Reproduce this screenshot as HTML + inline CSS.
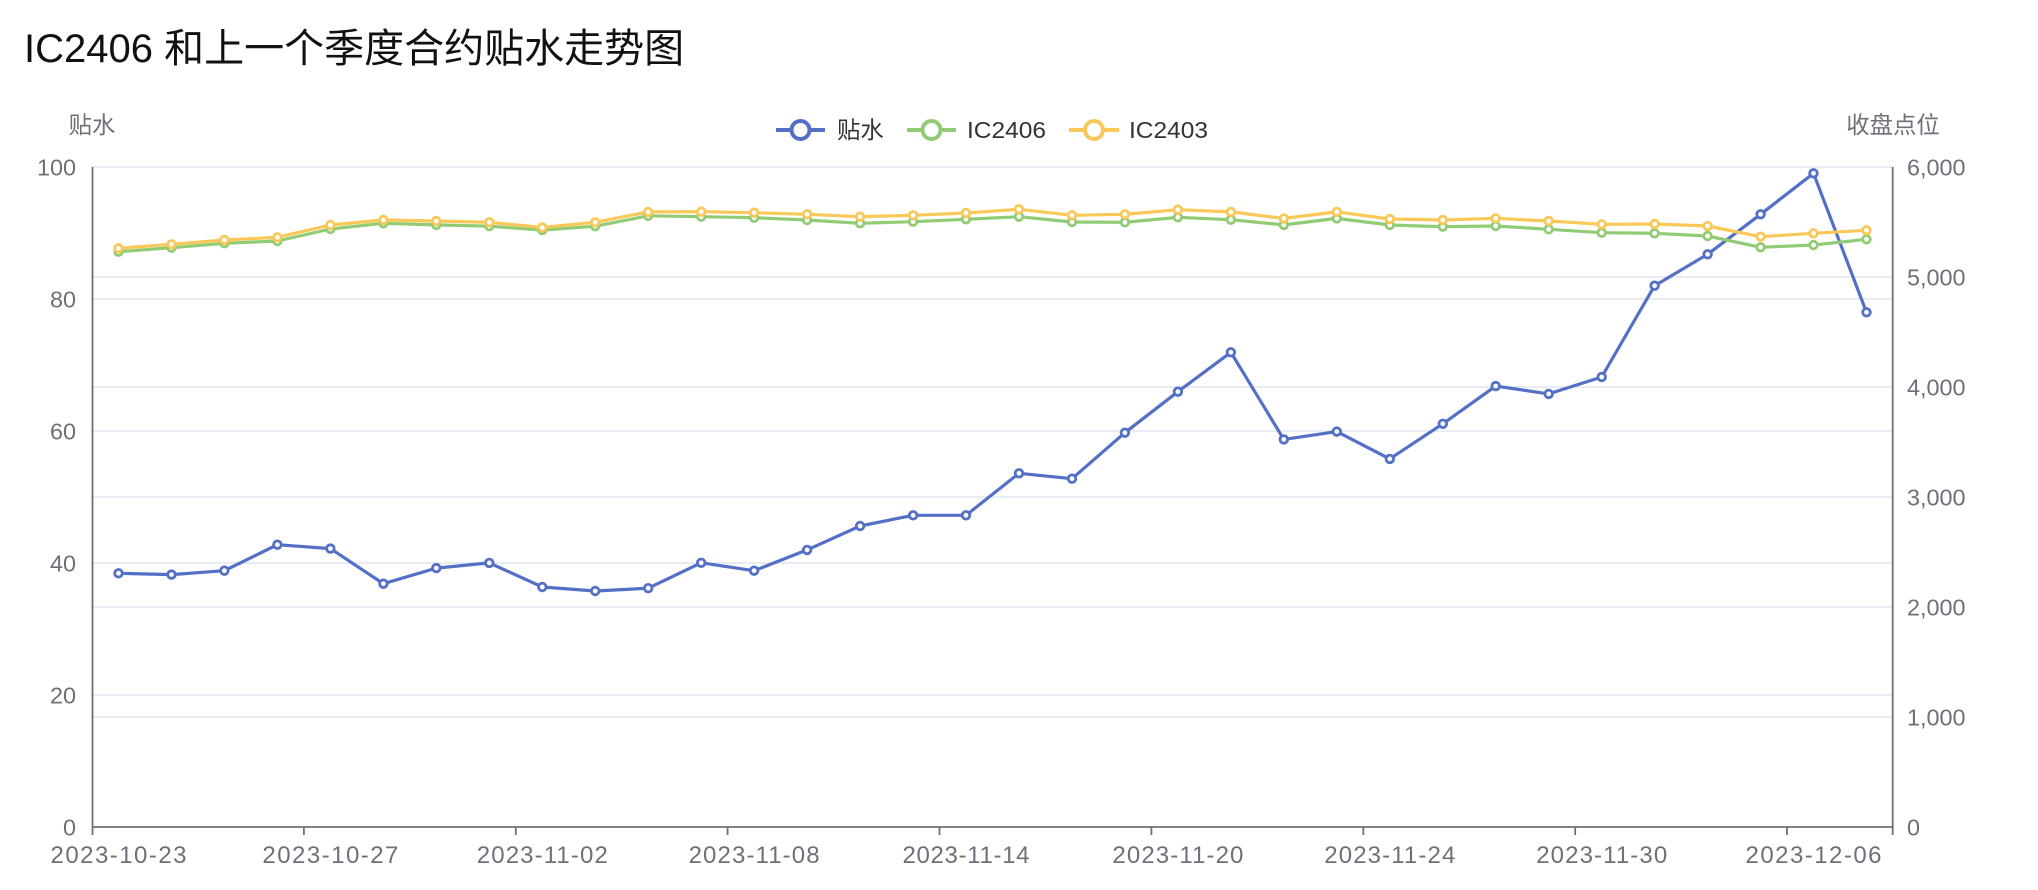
<!DOCTYPE html>
<html><head><meta charset="utf-8">
<style>
html,body{margin:0;padding:0;background:#fff;}
svg{display:block;font-family:"Liberation Sans","Noto Sans CJK SC",sans-serif;}
</style></head>
<body>
<svg width="2038" height="890" viewBox="0 0 2038 890" xmlns="http://www.w3.org/2000/svg">
<rect width="2038" height="890" fill="#fff"/>
<!-- title -->
<text x="24" y="62" font-size="40" fill="#111">IC2406 和上一个季度合约贴水走势图</text>

<!-- grid lines left axis -->
<g stroke="#E0E6F1" stroke-width="1.6">
<line x1="92" y1="167" x2="1893" y2="167"/>
<line x1="92" y1="299" x2="1893" y2="299"/>
<line x1="92" y1="431" x2="1893" y2="431"/>
<line x1="92" y1="563" x2="1893" y2="563"/>
<line x1="92" y1="695" x2="1893" y2="695"/>
<!-- right axis grid -->
<line x1="92" y1="277" x2="1893" y2="277"/>
<line x1="92" y1="387" x2="1893" y2="387"/>
<line x1="92" y1="497" x2="1893" y2="497"/>
<line x1="92" y1="607" x2="1893" y2="607"/>
<line x1="92" y1="717" x2="1893" y2="717"/>
</g>

<!-- axes -->
<g stroke="#6E7079" stroke-width="1.8">
<line x1="92.5" y1="167" x2="92.5" y2="827"/>
<line x1="1892.7" y1="167" x2="1892.7" y2="827"/>
<line x1="92" y1="827" x2="1893" y2="827"/>
<line x1="92.5" y1="827" x2="92.5" y2="835"/>
<line x1="303.9" y1="827" x2="303.9" y2="835"/>
<line x1="515.8" y1="827" x2="515.8" y2="835"/>
<line x1="727.6" y1="827" x2="727.6" y2="835"/>
<line x1="939.5" y1="827" x2="939.5" y2="835"/>
<line x1="1151.4" y1="827" x2="1151.4" y2="835"/>
<line x1="1363.3" y1="827" x2="1363.3" y2="835"/>
<line x1="1575.2" y1="827" x2="1575.2" y2="835"/>
<line x1="1787" y1="827" x2="1787" y2="835"/>
<line x1="1892.7" y1="827" x2="1892.7" y2="835"/>
</g>

<!-- left labels -->
<g font-size="23.4" fill="#6E7079" text-anchor="end">
<text x="76" y="175.4">100</text>
<text x="76" y="307.4">80</text>
<text x="76" y="439.4">60</text>
<text x="76" y="571.4">40</text>
<text x="76" y="703.4">20</text>
<text x="76" y="835.4">0</text>
</g>
<!-- right labels -->
<g font-size="23.4" fill="#6E7079">
<text x="1907" y="175.4">6,000</text>
<text x="1907" y="285.4">5,000</text>
<text x="1907" y="395.4">4,000</text>
<text x="1907" y="505.4">3,000</text>
<text x="1907" y="615.4">2,000</text>
<text x="1907" y="725.4">1,000</text>
<text x="1907" y="835.4">0</text>
</g>
<!-- axis names -->
<g font-size="23.4" fill="#6E7079" text-anchor="middle">
<text x="92" y="125" dominant-baseline="central">贴水</text>
<text x="1893" y="125" dominant-baseline="central">收盘点位</text>
</g>
<!-- x labels -->
<g font-size="24" fill="#6E7079" text-anchor="middle">
<text x="118.5" y="863" textLength="136" lengthAdjust="spacing">2023-10-23</text>
<text x="330.4" y="863" textLength="136" lengthAdjust="spacing">2023-10-27</text>
<text x="542.3" y="863" textLength="131" lengthAdjust="spacing">2023-11-02</text>
<text x="754.1" y="863" textLength="131" lengthAdjust="spacing">2023-11-08</text>
<text x="966" y="863" textLength="127" lengthAdjust="spacing">2023-11-14</text>
<text x="1177.9" y="863" textLength="131" lengthAdjust="spacing">2023-11-20</text>
<text x="1389.8" y="863" textLength="131" lengthAdjust="spacing">2023-11-24</text>
<text x="1601.7" y="863" textLength="131" lengthAdjust="spacing">2023-11-30</text>
<text x="1813.5" y="863" textLength="136" lengthAdjust="spacing">2023-12-06</text>
</g>

<!-- legend -->
<g stroke-width="4" fill="#fff">
<line x1="776" y1="130" x2="825" y2="130" stroke="#5470c6"/>
<circle cx="800.5" cy="130" r="9" stroke="#5470c6"/>
<line x1="907" y1="130" x2="956" y2="130" stroke="#91cc75"/>
<circle cx="931.5" cy="130" r="9" stroke="#91cc75"/>
<line x1="1069" y1="130" x2="1119" y2="130" stroke="#fac858"/>
<circle cx="1094" cy="130" r="9" stroke="#fac858"/>
</g>
<g font-size="23.4" fill="#333">
<text x="837" y="130" dominant-baseline="central">贴水</text>
<text x="967" y="130" dominant-baseline="central" textLength="79" lengthAdjust="spacingAndGlyphs">IC2406</text>
<text x="1129" y="130" dominant-baseline="central" textLength="79" lengthAdjust="spacingAndGlyphs">IC2403</text>
</g>

<!-- series 贴水 -->
<g stroke="#5470c6" stroke-width="3.2" fill="none" stroke-linejoin="round">
<polyline points="118.5,573.3 171.5,574.6 224.4,570.7 277.4,544.7 330.4,548.6 383.4,583.7 436.3,568.1 489.3,562.9 542.3,587 595.2,591 648.2,588.2 701.2,562.8 754.1,570.7 807.1,549.9 860.1,526 913.1,515.3 966,515.3 1019,473.3 1072,478.7 1124.9,432.7 1177.9,391.7 1230.9,352.3 1283.8,439.4 1336.8,431.6 1389.8,458.9 1442.8,423.8 1495.7,386.1 1548.7,393.9 1601.7,377 1654.6,285.7 1707.6,254.3 1760.6,214.3 1813.5,173.3 1866.5,312.3"/>
</g>
<g stroke="#5470c6" stroke-width="2.8" fill="#fff">
<circle cx="118.5" cy="573.3" r="3.8"/><circle cx="171.5" cy="574.6" r="3.8"/><circle cx="224.4" cy="570.7" r="3.8"/><circle cx="277.4" cy="544.7" r="3.8"/><circle cx="330.4" cy="548.6" r="3.8"/><circle cx="383.4" cy="583.7" r="3.8"/><circle cx="436.3" cy="568.1" r="3.8"/><circle cx="489.3" cy="562.9" r="3.8"/><circle cx="542.3" cy="587" r="3.8"/><circle cx="595.2" cy="591" r="3.8"/><circle cx="648.2" cy="588.2" r="3.8"/><circle cx="701.2" cy="562.8" r="3.8"/><circle cx="754.1" cy="570.7" r="3.8"/><circle cx="807.1" cy="549.9" r="3.8"/><circle cx="860.1" cy="526" r="3.8"/><circle cx="913.1" cy="515.3" r="3.8"/><circle cx="966" cy="515.3" r="3.8"/><circle cx="1019" cy="473.3" r="3.8"/><circle cx="1072" cy="478.7" r="3.8"/><circle cx="1124.9" cy="432.7" r="3.8"/><circle cx="1177.9" cy="391.7" r="3.8"/><circle cx="1230.9" cy="352.3" r="3.8"/><circle cx="1283.8" cy="439.4" r="3.8"/><circle cx="1336.8" cy="431.6" r="3.8"/><circle cx="1389.8" cy="458.9" r="3.8"/><circle cx="1442.8" cy="423.8" r="3.8"/><circle cx="1495.7" cy="386.1" r="3.8"/><circle cx="1548.7" cy="393.9" r="3.8"/><circle cx="1601.7" cy="377" r="3.8"/><circle cx="1654.6" cy="285.7" r="3.8"/><circle cx="1707.6" cy="254.3" r="3.8"/><circle cx="1760.6" cy="214.3" r="3.8"/><circle cx="1813.5" cy="173.3" r="3.8"/><circle cx="1866.5" cy="312.3" r="3.8"/>
</g>

<!-- series IC2406 -->
<g stroke="#91cc75" stroke-width="3.2" fill="none" stroke-linejoin="round">
<polyline points="118.5,251.7 171.5,247.7 224.4,243.3 277.4,241 330.4,229 383.4,223.3 436.3,224.9 489.3,226.2 542.3,230.1 595.2,226.2 648.2,215.8 701.2,216.7 754.1,217.7 807.1,220 860.1,223.3 913.1,221.7 966,219.3 1019,216.7 1072,222 1124.9,222.3 1177.9,217.3 1230.9,219.7 1283.8,224.9 1336.8,218.4 1389.8,225 1442.8,226.7 1495.7,226 1548.7,229.3 1601.7,232.7 1654.6,233.3 1707.6,236 1760.6,247.3 1813.5,245 1866.5,239.3"/>
</g>
<g stroke="#91cc75" stroke-width="2.8" fill="#fff">
<circle cx="118.5" cy="251.7" r="3.8"/><circle cx="171.5" cy="247.7" r="3.8"/><circle cx="224.4" cy="243.3" r="3.8"/><circle cx="277.4" cy="241" r="3.8"/><circle cx="330.4" cy="229" r="3.8"/><circle cx="383.4" cy="223.3" r="3.8"/><circle cx="436.3" cy="224.9" r="3.8"/><circle cx="489.3" cy="226.2" r="3.8"/><circle cx="542.3" cy="230.1" r="3.8"/><circle cx="595.2" cy="226.2" r="3.8"/><circle cx="648.2" cy="215.8" r="3.8"/><circle cx="701.2" cy="216.7" r="3.8"/><circle cx="754.1" cy="217.7" r="3.8"/><circle cx="807.1" cy="220" r="3.8"/><circle cx="860.1" cy="223.3" r="3.8"/><circle cx="913.1" cy="221.7" r="3.8"/><circle cx="966" cy="219.3" r="3.8"/><circle cx="1019" cy="216.7" r="3.8"/><circle cx="1072" cy="222" r="3.8"/><circle cx="1124.9" cy="222.3" r="3.8"/><circle cx="1177.9" cy="217.3" r="3.8"/><circle cx="1230.9" cy="219.7" r="3.8"/><circle cx="1283.8" cy="224.9" r="3.8"/><circle cx="1336.8" cy="218.4" r="3.8"/><circle cx="1389.8" cy="225" r="3.8"/><circle cx="1442.8" cy="226.7" r="3.8"/><circle cx="1495.7" cy="226" r="3.8"/><circle cx="1548.7" cy="229.3" r="3.8"/><circle cx="1601.7" cy="232.7" r="3.8"/><circle cx="1654.6" cy="233.3" r="3.8"/><circle cx="1707.6" cy="236" r="3.8"/><circle cx="1760.6" cy="247.3" r="3.8"/><circle cx="1813.5" cy="245" r="3.8"/><circle cx="1866.5" cy="239.3" r="3.8"/>
</g>

<!-- series IC2403 -->
<g stroke="#fac858" stroke-width="3.2" fill="none" stroke-linejoin="round">
<polyline points="118.5,248.3 171.5,244.3 224.4,240 277.4,237.3 330.4,225 383.4,220 436.3,221 489.3,222.3 542.3,227.5 595.2,222.3 648.2,211.9 701.2,211.7 754.1,212.7 807.1,214.3 860.1,216.7 913.1,215.3 966,213 1019,209.3 1072,215.3 1124.9,214.3 1177.9,209.7 1230.9,211.9 1283.8,218.4 1336.8,211.9 1389.8,219 1442.8,220 1495.7,218.3 1548.7,221 1601.7,224.3 1654.6,224 1707.6,226 1760.6,236.7 1813.5,233.3 1866.5,230.3"/>
</g>
<g stroke="#fac858" stroke-width="2.8" fill="#fff">
<circle cx="118.5" cy="248.3" r="3.8"/><circle cx="171.5" cy="244.3" r="3.8"/><circle cx="224.4" cy="240" r="3.8"/><circle cx="277.4" cy="237.3" r="3.8"/><circle cx="330.4" cy="225" r="3.8"/><circle cx="383.4" cy="220" r="3.8"/><circle cx="436.3" cy="221" r="3.8"/><circle cx="489.3" cy="222.3" r="3.8"/><circle cx="542.3" cy="227.5" r="3.8"/><circle cx="595.2" cy="222.3" r="3.8"/><circle cx="648.2" cy="211.9" r="3.8"/><circle cx="701.2" cy="211.7" r="3.8"/><circle cx="754.1" cy="212.7" r="3.8"/><circle cx="807.1" cy="214.3" r="3.8"/><circle cx="860.1" cy="216.7" r="3.8"/><circle cx="913.1" cy="215.3" r="3.8"/><circle cx="966" cy="213" r="3.8"/><circle cx="1019" cy="209.3" r="3.8"/><circle cx="1072" cy="215.3" r="3.8"/><circle cx="1124.9" cy="214.3" r="3.8"/><circle cx="1177.9" cy="209.7" r="3.8"/><circle cx="1230.9" cy="211.9" r="3.8"/><circle cx="1283.8" cy="218.4" r="3.8"/><circle cx="1336.8" cy="211.9" r="3.8"/><circle cx="1389.8" cy="219" r="3.8"/><circle cx="1442.8" cy="220" r="3.8"/><circle cx="1495.7" cy="218.3" r="3.8"/><circle cx="1548.7" cy="221" r="3.8"/><circle cx="1601.7" cy="224.3" r="3.8"/><circle cx="1654.6" cy="224" r="3.8"/><circle cx="1707.6" cy="226" r="3.8"/><circle cx="1760.6" cy="236.7" r="3.8"/><circle cx="1813.5" cy="233.3" r="3.8"/><circle cx="1866.5" cy="230.3" r="3.8"/>
</g>
</svg>
</body></html>
